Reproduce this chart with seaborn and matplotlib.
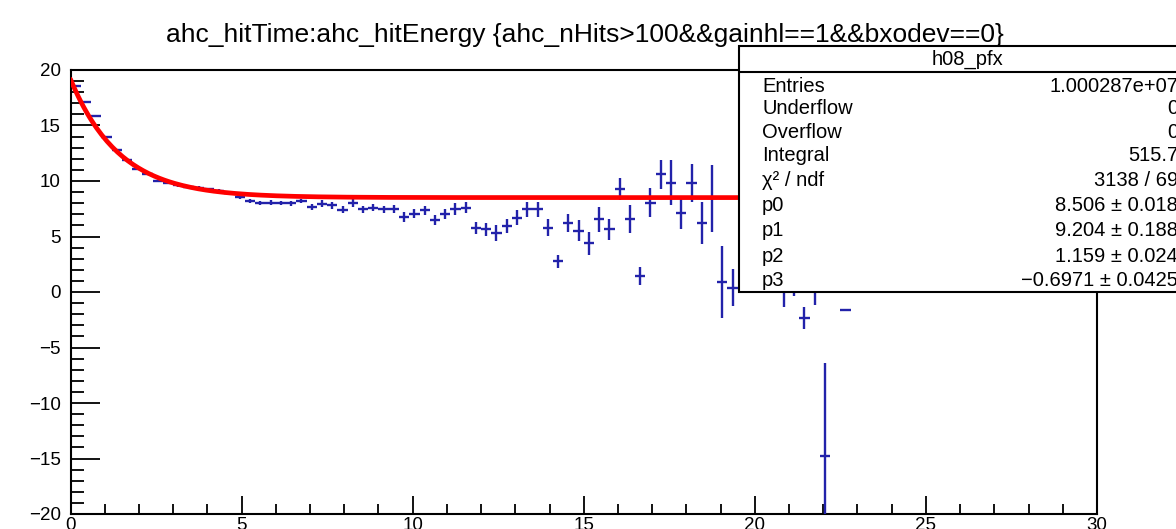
import numpy as np
import pandas as pd
import seaborn as sns
import matplotlib.pyplot as plt
from matplotlib.patches import Rectangle
from matplotlib.lines import Line2D

# ---- profile contents: bin centres (0.3 wide bins), mean and error ----
bin_center = [0.15, 0.45, 0.75, 1.05, 1.35, 1.65, 1.95, 2.25, 2.55, 2.85,
              3.15, 3.45, 3.75, 4.05, 4.35, 4.65, 4.95, 5.25, 5.55, 5.85,
              6.15, 6.45, 6.75, 7.05, 7.35, 7.65, 7.95, 8.25, 8.55, 8.85,
              9.15, 9.45, 9.75, 10.05, 10.35, 10.65, 10.95, 11.25, 11.55, 11.85,
              12.15, 12.45, 12.75, 13.05, 13.35, 13.65, 13.95, 14.25, 14.55, 14.85,
              15.15, 15.45, 15.75, 16.05, 16.35, 16.65, 16.95, 17.25, 17.55, 17.85,
              18.15, 18.45, 18.75, 19.05, 19.35, 20.85, 21.15, 21.45, 21.75, 22.05,
              22.65]
bin_mean = [18.6, 17.1, 15.9, 14.0, 12.8, 11.9, 11.1, 10.6, 10.0, 9.8,
            9.6, 9.45, 9.4, 9.25, 9.1, 8.9, 8.56, 8.2, 8.05, 8.05,
            8.0, 8.0, 8.2, 7.65, 7.95, 7.8, 7.4, 8.05, 7.45, 7.6,
            7.45, 7.45, 6.75, 7.05, 7.35, 6.5, 7.05, 7.45, 7.6, 5.8,
            5.65, 5.3, 5.95, 6.7, 7.45, 7.45, 5.8, 2.75, 6.25, 5.5,
            4.4, 6.55, 5.65, 9.3, 6.55, 1.45, 8.05, 10.6, 9.85, 7.15,
            9.85, 6.25, 8.45, 0.9, 0.4, 0.2, 0.5, -2.35, 0.3, -14.8,
            -1.65]
bin_error = [0.08, 0.08, 0.08, 0.08, 0.08, 0.08, 0.1, 0.1, 0.1, 0.1,
             0.12, 0.12, 0.12, 0.15, 0.15, 0.15, 0.15, 0.18, 0.18, 0.2,
             0.2, 0.22, 0.22, 0.25, 0.3, 0.3, 0.32, 0.35, 0.32, 0.32,
             0.32, 0.35, 0.45, 0.4, 0.4, 0.45, 0.45, 0.55, 0.5, 0.55,
             0.6, 0.75, 0.65, 0.65, 0.7, 0.7, 0.75, 0.6, 0.8, 0.95,
             1.05, 1.1, 0.95, 1.0, 1.25, 0.8, 1.3, 1.3, 2.05, 1.45,
             1.7, 1.9, 3.0, 3.2, 1.7, 1.55, 0.9, 1.0, 1.5, 8.4,
             0.05]
half_width = 0.15

# ---- fit result ----
p0, p1, p2, p3 = 8.506, 9.204, 1.159, -0.6971
fit_lo, fit_hi = 0.0, 22.8

stat_labels = ["Entries", "Underflow", "Overflow", "Integral", "χ² / ndf",
               "p0", "p1", "p2", "p3"]
stat_values = ["1.000287e+07", "0", "0", "515.7", "3138 / 69",
               "8.506 ± 0.018", "9.204 ± 0.188", "1.159 ± 0.024",
               "−0.6971 ± 0.0425"]

title = "ahc_hitTime:ahc_hitEnergy {ahc_nHits>100&&gainhl==1&&bxodev==0}"
hist_name = "h08_pfx"

sns.set_style("ticks")
plt.rcParams['font.family'] = ['Liberation Sans', 'DejaVu Sans']
plt.rcParams['text.color'] = 'black'
plt.rcParams['xtick.color'] = 'black'
plt.rcParams['ytick.color'] = 'black'

W, H = 1176, 529
fig = plt.figure(figsize=(W / 100, H / 100), dpi=100)
ax = fig.add_axes([70.5 / W, (H - 514) / H, (1097 - 70.5) / W, (514 - 70) / H])

blue = "#2222aa"
ax.errorbar(bin_center, bin_mean, xerr=half_width, yerr=bin_error,
            fmt="none", ecolor=blue, elinewidth=1.7, capsize=0, zorder=3)

xs = np.linspace(fit_lo, fit_hi, 300)
fit_df = pd.DataFrame({"x": xs, "y": p0 + p1 * p2 * np.exp(p3 * xs)})
sns.lineplot(data=fit_df, x="x", y="y", color="#ff0000", linewidth=3.4,
             ax=ax, zorder=4)

ax.set_xlim(0, 30)
ax.set_ylim(-20, 20)
ax.set_xlabel("")
ax.set_ylabel("")
ax.set_xticks(np.arange(0, 31, 5))
ax.set_yticks(np.arange(-20, 21, 5))
ax.set_xticks(np.arange(0, 31, 1), minor=True)
ax.set_yticks(np.arange(-20, 21, 1), minor=True)
for s in ax.spines.values():
    s.set_linewidth(1.5)
    s.set_color("black")
ax.tick_params(axis="x", which="major", direction="in", length=13, width=1.3,
               labelsize=13.5, pad=2, top=False, labelcolor="black")
ax.tick_params(axis="x", which="minor", direction="in", length=7, width=1.3,
               top=False)
ax.tick_params(axis="y", which="major", direction="in", length=21, width=1.3,
               labelsize=13.5, pad=7, right=False, labelcolor="black")
ax.tick_params(axis="y", which="minor", direction="in", length=9.5, width=1.3,
               right=False)

fig.text(585 / W, 1 - 35 / H, title, ha="center", va="center", fontsize=19,
         color="black")

# statistics box
bx0, by_top, by_bot, bx1 = 739, 46, 292, 1196
box = Rectangle((bx0 / W, 1 - by_bot / H), (bx1 - bx0) / W, (by_bot - by_top) / H,
                transform=fig.transFigure, facecolor="white", edgecolor="black",
                linewidth=1.5, zorder=10, clip_on=False)
fig.add_artist(box)
fig.add_artist(Line2D([bx0 / W, bx1 / W], [1 - 72 / H, 1 - 72 / H],
                      transform=fig.transFigure, color="black", linewidth=1.5,
                      zorder=11))
fig.text((bx0 + bx1) / 2 / W, 1 - 59 / H, hist_name, ha="center", va="center",
         fontsize=14.5, zorder=12, color="black")
row_y = [86, 109, 133, 156, 181, 206, 231, 256, 281]
for lab, val, yy in zip(stat_labels, stat_values, row_y):
    fig.text(762 / W, 1 - yy / H, lab, ha="left", va="center", fontsize=14.5,
             zorder=12, color="black")
    fig.text(1178 / W, 1 - yy / H, val, ha="right", va="center", fontsize=14.5,
             zorder=12, color="black")

fig.savefig("out.png", dpi=100)
